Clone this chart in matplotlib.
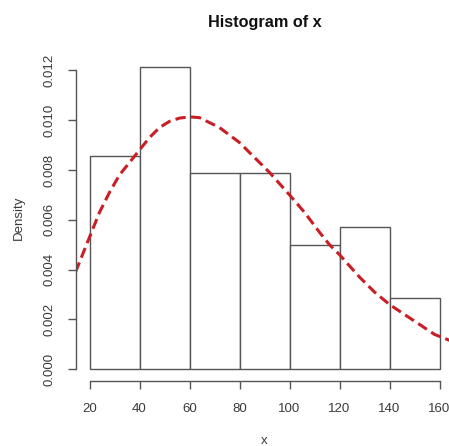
import matplotlib
matplotlib.use('Agg')
import matplotlib.pyplot as plt

plt.rcParams['font.family'] = ['Liberation Sans', 'DejaVu Sans']

# histogram bins and densities
bin_edges = [20, 40, 60, 80, 100, 120, 140, 160]
bin_density = [0.00857, 0.01214, 0.00786, 0.00786, 0.00500, 0.00571, 0.00286]

# dashed density curve
curve_x = [14.4, 20, 24, 28, 32, 36, 40, 44, 48, 52, 56, 60, 64, 68, 72, 76, 80,
           86, 92, 100, 106, 112, 116, 120, 128, 134, 140, 146, 152, 158, 165.6]
curve_y = [0.0039, 0.0053, 0.0063, 0.0071, 0.0078, 0.0083, 0.0088, 0.0093, 0.0097,
           0.00995, 0.01008, 0.01013, 0.0101, 0.0099, 0.0097, 0.0094, 0.0091,
           0.0085, 0.0079, 0.0070, 0.0063, 0.0055, 0.0050, 0.0046, 0.0037,
           0.0031, 0.0026, 0.0022, 0.0018, 0.0014, 0.0011]

xticks = [20, 40, 60, 80, 100, 120, 140, 160]
yticks = [0.000, 0.002, 0.004, 0.006, 0.008, 0.010, 0.012]

W, H = 449, 446
fig = plt.figure(figsize=(W / 100, H / 100), dpi=100)
ax = fig.add_axes([75.5 / W, 64.6 / H, 378 / W, 326.8 / H])
ax.set_xlim(14.4, 165.6)
ax.set_ylim(-0.000486, 0.012629)

edge = '#555555'
widths = [b - a for a, b in zip(bin_edges[:-1], bin_edges[1:])]
ax.bar(bin_edges[:-1], bin_density, width=widths, align='edge',
       facecolor='white', edgecolor=edge, linewidth=1.0)

ax.plot(curve_x, curve_y, color='#c81e24', linewidth=2.2,
        dashes=(3.4, 1.7), dash_capstyle='butt')

for s in ['top', 'right']:
    ax.spines[s].set_visible(False)
ax.spines['left'].set_bounds(0, 0.012)
ax.spines['bottom'].set_bounds(20, 160)
for s in ['left', 'bottom']:
    ax.spines[s].set_color(edge)
    ax.spines[s].set_linewidth(1.0)

ax.set_xticks(xticks)
ax.set_xticklabels([str(t) for t in xticks])
ax.set_yticks(yticks)
ax.set_yticklabels(['%.3f' % t for t in yticks])
ax.tick_params(axis='both', length=5.8, width=1.0, color=edge,
               labelsize=9.5, labelcolor='#3a3a3a')
ax.tick_params(axis='x', pad=9.5)
ax.tick_params(axis='y', labelrotation=90, pad=8.5)
for lab in ax.get_yticklabels():
    lab.set_va('center')

fig.text(264.5 / W, 1 - 22 / H, 'Histogram of x', ha='center', va='center',
         fontsize=11.7, fontweight='bold', color='#111111')
fig.text(19 / W, 1 - 218 / H, 'Density', ha='center', va='center',
         rotation=90, fontsize=9.5, color='#3a3a3a')
fig.text(264.5 / W, 1 - 441 / H, 'x', ha='center', va='center',
         fontsize=9.5, color='#3a3a3a')

fig.savefig('out.png', dpi=100)
